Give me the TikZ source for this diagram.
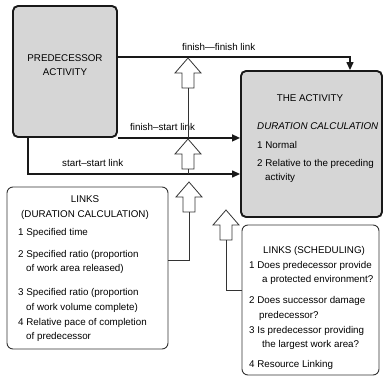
\documentclass[tikz,border=0pt]{standalone}
\usepackage{fontspec}
\setmainfont{Liberation Sans}
\usetikzlibrary{arrows.meta,calc}
\begin{document}
\begin{tikzpicture}[x=1pt,y=-1pt,
  txt/.style={font=\fontsize{9.8}{11}\selectfont, inner sep=0pt, anchor=base west, text=black},
  ctxt/.style={txt, anchor=base},
  heavybox/.style={draw=black!90, line width=1.9pt, rounded corners=5pt, fill=black!16},
  lightbox/.style={draw=black!80, line width=0.9pt, rounded corners=6pt},
  link/.style={draw=black!90, line width=1.4pt, -{Triangle[length=8pt,width=7pt]}},
  thinline/.style={draw=black!80, line width=0.8pt},
  hollowup/.pic={
    \draw[thinline, fill=white] (0,0) -- (13,15) -- (6,15) -- (6,30) -- (-6,30) -- (-6,15) -- (-13,15) -- cycle;
    \coordinate (-tail) at (0,30);
  }
]
\useasboundingbox (0,0) rectangle (384,380);

% boxes
\node[heavybox, minimum width=104pt, minimum height=131pt] (pred) at (65,71.5) {};
\node[heavybox, minimum width=141pt, minimum height=146pt] (act) at (311.5,144) {};
\node[lightbox, minimum width=161pt, minimum height=162pt] (dur) at (87.5,268) {};
\node[lightbox, minimum width=137pt, minimum height=150pt] (sched) at (310.5,300) {};

% predecessor text
\node[ctxt] (p1) at (65,61) {PREDECESSOR};
\node[ctxt] (p2) at (65,75) {ACTIVITY};

% activity text
\node[ctxt] (t0) at (310,101) {THE ACTIVITY};
\node[txt] (t1) at (257,129) {\itshape DURATION CALCULATION};
\node[txt] (t2) at (257,148) {1 Normal};
\node[txt] (t3) at (257,166) {2 Relative to the preceding};
\node[txt] (t4) at (265,180) {activity};

% links: duration calculation
\node[ctxt] (d0) at (85,203) {LINKS};
\node[ctxt] (d00) at (85,217) {(DURATION CALCULATION)};
\node[txt] (d1) at (18,235) {1 Specified time};
\node[txt] (d2) at (18,257) {2 Specified ratio (proportion};
\node[txt] (d3) at (26,271) {of work area released)};
\node[txt] (d4) at (18,295) {3 Specified ratio (proportion};
\node[txt] (d5) at (26,310) {of work volume complete)};
\node[txt] (d6) at (18,325) {4 Relative pace of completion};
\node[txt] (d7) at (26,339) {of predecessor};

% links: scheduling
\node[ctxt] (s0) at (314,254) {LINKS (SCHEDULING)};
\node[txt] (s1) at (249,269) {1 Does predecessor provide};
\node[txt] (s2) at (262,283) {a protected environment?};
\node[txt] (s3) at (249,303) {2 Does successor damage};
\node[txt] (s4) at (259,318) {predecessor?};
\node[txt] (s5) at (249,333) {3 Is predecessor providing};
\node[txt] (s6) at (262,348) {the largest work area?};
\node[txt] (s7) at (249,367) {4 Resource Linking};

% link connectors
\coordinate (ffturn) at (350,57);
\coordinate (ssturn) at (28,174);
\draw[link] (pred.east |- ffturn) -- (ffturn) -- (act.north -| ffturn);
\draw[link] (pred.south east) -- (act.west |- pred.south east);
\draw[link] (pred.south -| ssturn) -- (ssturn) -- (act.west |- ssturn);

\node[txt] (lff) at (182,50) {finish—finish link};
\node[txt] (lfs) at (130,130) {finish–start link};
\node[txt] (lss) at (62,167) {start–start link};

% hollow arrows
\pic (a1) at (188,58) {hollowup};
\pic (a2) at (188,139) {hollowup};
\pic (a3) at (189,182) {hollowup};
\pic (a4) at (226,210) {hollowup};
\draw[thinline] (a1-tail) -- (a1-tail |- pred.south east);
\draw[thinline] (a2-tail) -- (a2-tail |- ssturn);
\draw[thinline] (a3-tail) |- ($(dur.east)+(0,-8)$);
\draw[thinline] (a4-tail) |- ($(sched.west)+(0,-10)$);
\end{tikzpicture}
\end{document}
